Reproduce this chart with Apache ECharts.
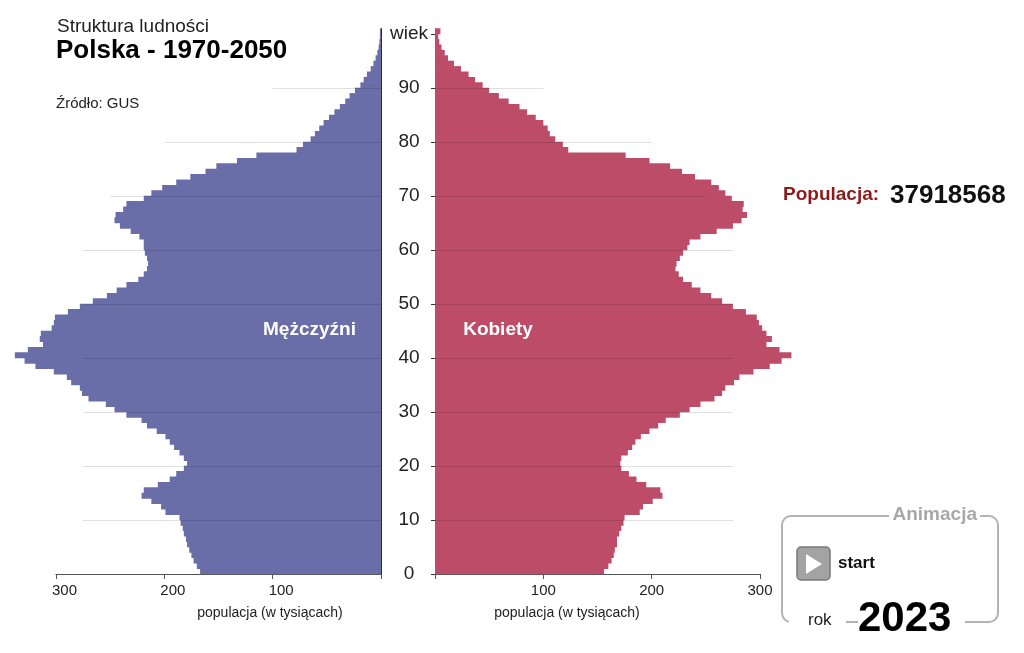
<!DOCTYPE html>
<html>
<head>
<meta charset="utf-8">
<script src="https://cdn.jsdelivr.net/npm/echarts/dist/echarts.min.js"></script>
<style>
html,body{margin:0;padding:0;background:#fff;}
#chart{width:1024px;height:653px;}
</style>
</head>
<body>
<div id="chart"></div>
<script>
// ---- data (thousands of persons, Poland 2023) ----
const ages = [0,1,2,3,4,5,6,7,8,9,10,11,12,13,14,15,16,17,18,19,20,21,22,23,24,25,26,27,28,29,30,31,32,33,34,35,36,37,38,39,40,41,42,43,44,45,46,47,48,49,50,51,52,53,54,55,56,57,58,59,60,61,62,63,64,65,66,67,68,69,70,71,72,73,74,75,76,77,78,79,80,81,82,83,84,85,86,87,88,89,90,91,92,93,94,95,96,97,98,99,100];
const male = [167,170,173,175,177,179,180,182,183,185,186,199,203,212,221,219,206,195,189,182,179,182,186,191,195,199,207,216,221,235,246,254,270,276,278,286,290,302,319,329,338,326,312,315,314,304,302,301,289,278,266,253,244,235,224,219,216,215,216,218,219,219,223,231,241,246,245,238,235,219,212,202,189,176,162,152,133,115,78,72,65,61,57,53,48,43,38,33,29,24,19,16,13,9.5,7,5,3.4,2.2,1.5,1,1];
const female = [156,160,163,165,166,168,168,170,172,174,175,189,192,201,210,208,195,186,179,172,171,172,178,182,185,190,198,206,213,226,235,245,258,265,268,276,281,294,309,320,329,318,306,311,306,302,299,297,287,275,265,255,245,237,229,225,222,223,226,229,233,235,245,260,275,283,288,284,285,274,268,262,255,240,228,217,198,176,123,118,111,106,104,100,93,85,78,68,59,50,44,37,31,24,17.5,12,9,6,4,3,5];
const yTickLabels = ['0','10','20','30','40','50','60','70','80','90','wiek'];
const gridAges = [10,20,30,40,50,60,70,80,90];
const gridReach = [275,275,275,275,275,275,250,200,100];
const populationText = '37918568';
const yearText = '2023';

const FONT = '"Liberation Sans", Arial, Helvetica, sans-serif';
const MALE_COLOR = '#6a6ea8';
const FEMALE_COLOR = '#bd4c69';

function barRenderer(color) {
  return function (params, api) {
    const v = api.value(0), age = api.value(1);
    const p0 = api.coord([0, age]);
    const p1 = api.coord([v, age + 1]);
    const x = Math.min(p0[0], p1[0]);
    const w = Math.abs(p1[0] - p0[0]);
    const y = Math.min(p0[1], p1[1]);
    const h = Math.abs(p1[1] - p0[1]);
    return {type: 'rect', shape: {x: x, y: y - 0.3, width: w, height: h + 0.6}, style: {fill: color}};
  };
}
function gridRenderer(params, api) {
  const len = api.value(0), age = api.value(1);
  const p0 = api.coord([0, age]);
  const p1 = api.coord([len, age]);
  const y = Math.round(p0[1]) + 0.5;
  return {type: 'line', shape: {x1: p0[0], y1: y, x2: p1[0], y2: y},
    style: {stroke: 'rgba(0,0,0,0.12)', lineWidth: 1}};
}

const maleData = male.map((v, i) => [v, ages[i]]);
const femaleData = female.map((v, i) => [v, ages[i]]);
const gridData = gridAges.map((a, i) => [gridReach[i], a]);

const chart = echarts.init(document.getElementById('chart'));
const option = {
  animation: false,
  textStyle: {fontFamily: FONT},
  grid: [
    {left: 56, right: 643, top: 28.6, bottom: 79},
    {left: 435, right: 264, top: 28.6, bottom: 79}
  ],
  xAxis: [
    {gridIndex: 0, type: 'value', min: 0, max: 300, interval: 100, inverse: true,
     axisLine: {show: true, lineStyle: {color: '#555'}},
     axisTick: {show: true, length: 5, lineStyle: {color: '#555'}},
     splitLine: {show: false},
     axisLabel: {formatter: v => v === 0 ? '' : String(v), fontSize: 15, color: '#222', margin: 9, padding: [0, 0, 0, 17], fontFamily: FONT}},
    {gridIndex: 1, type: 'value', min: 0, max: 300, interval: 100,
     axisLine: {show: true, lineStyle: {color: '#555'}},
     axisTick: {show: true, length: 5, lineStyle: {color: '#555'}},
     splitLine: {show: false},
     axisLabel: {formatter: v => v === 0 ? '' : String(v), fontSize: 15, color: '#222', margin: 9, fontFamily: FONT}}
  ],
  yAxis: [
    {gridIndex: 0, type: 'value', min: 0, max: 101, interval: 10, position: 'right',
     axisLine: {show: true, lineStyle: {color: '#2a2a40'}},
     axisTick: {show: false}, axisLabel: {show: false}, splitLine: {show: false}},
    {gridIndex: 1, type: 'value', min: 0, max: 101, interval: 10, position: 'left',
     axisLine: {show: true, lineStyle: {color: '#402030'}},
     axisTick: {show: true, length: 4, lineStyle: {color: '#333'}},
     axisLabel: {show: true, showMaxLabel: false, margin: 26, align: 'center', fontSize: 19, color: '#222', fontFamily: FONT,
       formatter: v => (v % 10 === 0 && v <= 100) ? yTickLabels[v / 10] : ''},
     splitLine: {show: false}}
  ],
  series: [
    {type: 'custom', name: 'Mężczyźni', xAxisIndex: 0, yAxisIndex: 0, data: maleData,
     encode: {x: 0, y: 1}, renderItem: barRenderer(MALE_COLOR), z: 2, silent: true},
    {type: 'custom', name: 'Kobiety', xAxisIndex: 1, yAxisIndex: 1, data: femaleData,
     encode: {x: 0, y: 1}, renderItem: barRenderer(FEMALE_COLOR), z: 2, silent: true},
    {type: 'custom', xAxisIndex: 0, yAxisIndex: 0, data: gridData,
     encode: {x: 0, y: 1}, renderItem: gridRenderer, z: 3, silent: true},
    {type: 'custom', xAxisIndex: 1, yAxisIndex: 1, data: gridData,
     encode: {x: 0, y: 1}, renderItem: gridRenderer, z: 3, silent: true}
  ],
  graphic: [
    {type: 'text', x: 57, y: 27, style: {text: 'Struktura ludności', font: '19px ' + FONT, fill: '#222', verticalAlign: 'middle'}},
    {type: 'text', x: 56, y: 51, style: {text: 'Polska - 1970-2050', font: 'bold 26px ' + FONT, fill: '#000', verticalAlign: 'middle'}},
    {type: 'text', x: 56, y: 104, style: {text: 'Źródło: GUS', font: '15px ' + FONT, fill: '#222', verticalAlign: 'middle'}},
    {type: 'text', x: 309.5, y: 330, z: 10, style: {text: 'Mężczyźni', font: 'bold 19px ' + FONT, fill: '#fff', align: 'center', verticalAlign: 'middle'}},
    {type: 'text', x: 498, y: 330, z: 10, style: {text: 'Kobiety', font: 'bold 19px ' + FONT, fill: '#fff', align: 'center', verticalAlign: 'middle'}},
    {type: 'text', x: 270, y: 613, style: {text: 'populacja (w tysiącach)', font: '14px ' + FONT, fill: '#222', align: 'center', verticalAlign: 'middle'}},
    {type: 'text', x: 567, y: 613, style: {text: 'populacja (w tysiącach)', font: '14px ' + FONT, fill: '#222', align: 'center', verticalAlign: 'middle'}},
    {type: 'text', x: 783, y: 195, style: {text: 'Populacja:', font: 'bold 19px ' + FONT, fill: '#8b1a1a', verticalAlign: 'middle'}},
    {type: 'text', x: 890, y: 196, style: {text: populationText, font: 'bold 26px ' + FONT, fill: '#111', verticalAlign: 'middle'}},
    // animation box
    {type: 'rect', z: 1, shape: {x: 782, y: 516, width: 216, height: 106, r: 9}, style: {fill: 'none', stroke: '#b3b3b3', lineWidth: 2}},
    {type: 'rect', z: 2, shape: {x: 889, y: 509, width: 91, height: 14}, style: {fill: '#fff'}},
    {type: 'rect', z: 2, shape: {x: 789, y: 614, width: 57, height: 14}, style: {fill: '#fff'}},
    {type: 'rect', z: 2, shape: {x: 858, y: 614, width: 107, height: 14}, style: {fill: '#fff'}},
    {type: 'text', z: 3, x: 892.5, y: 515, style: {text: 'Animacja', font: 'bold 19px ' + FONT, fill: '#a8a8a8', verticalAlign: 'middle'}},
    {type: 'rect', z: 3, shape: {x: 797, y: 547, width: 33, height: 33, r: 4}, style: {fill: '#a3a3a3', stroke: '#7a7a7a', lineWidth: 1.5}},
    {type: 'polygon', z: 4, shape: {points: [[806, 554], [806, 574], [822, 564]]}, style: {fill: '#fff'}},
    {type: 'text', z: 3, x: 838, y: 563, style: {text: 'start', font: 'bold 17px ' + FONT, fill: '#111', verticalAlign: 'middle'}},
    {type: 'text', z: 3, x: 808, y: 620, style: {text: 'rok', font: '17px ' + FONT, fill: '#222', verticalAlign: 'middle'}},
    {type: 'text', z: 3, x: 858, y: 619, style: {text: yearText, font: 'bold 42px ' + FONT, fill: '#000', verticalAlign: 'middle'}}
  ]
};
chart.setOption(option);
</script>
</body>
</html>
